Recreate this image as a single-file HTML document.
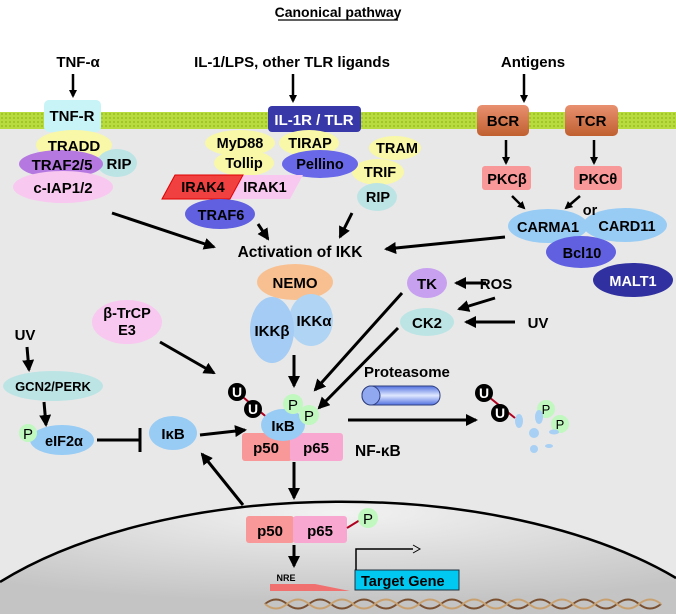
<!DOCTYPE html>
<html><head><meta charset="utf-8"><style>
html,body{margin:0;padding:0;background:#fff;width:676px;height:614px;overflow:hidden}
svg{display:block}
text{font-family:"Liberation Sans",sans-serif;font-weight:bold;fill:#000}
</style></head><body>
<svg width="676" height="614" viewBox="0 0 676 614" xmlns="http://www.w3.org/2000/svg" style="overflow:hidden">
<defs>
<pattern id="mem" width="4" height="4" patternUnits="userSpaceOnUse"><rect width="4" height="4" fill="#b8dc40"/><circle cx="2" cy="2" r="1" fill="#98c020"/></pattern>
<radialGradient id="nuc" cx="0.5" cy="0.1" r="0.8"><stop offset="0" stop-color="#f2f2f2"/><stop offset="1" stop-color="#c4c4c4"/></radialGradient>
<linearGradient id="brown" x1="0" y1="0" x2="0" y2="1"><stop offset="0" stop-color="#e89070"/><stop offset="1" stop-color="#c06030"/></linearGradient>
<linearGradient id="cyl" x1="0" y1="0" x2="0" y2="1"><stop offset="0" stop-color="#5070e0"/><stop offset="0.5" stop-color="#e0e8ff"/><stop offset="1" stop-color="#5070e0"/></linearGradient>
<marker id="ah" markerWidth="8" markerHeight="8" refX="6" refY="4" orient="auto" markerUnits="userSpaceOnUse"><path d="M0,0 L8,4 L0,8 Z" fill="#000"/></marker>
<marker id="ahb" markerWidth="12" markerHeight="12" refX="10" refY="6" orient="auto" markerUnits="userSpaceOnUse"><path d="M0,0 L12,6 L0,12 Z" fill="#000"/></marker>
</defs>
<rect x="0" y="125" width="676" height="489" fill="#e8e8e8"/>
<rect x="0" y="112" width="676" height="17" fill="url(#mem)"/>
<path d="M0,582 A430,205 0 0 1 676,578 L676,614 L0,614 Z" fill="url(#nuc)"/>
<path d="M0,582 A430,205 0 0 1 676,578" fill="none" stroke="#000" stroke-width="2.5"/>

<text x="338" y="17" font-size="14" text-anchor="middle">Canonical pathway</text>
<line x1="278" y1="20" x2="398" y2="20" stroke="#000" stroke-width="1.2"/>
<g font-size="15" text-anchor="middle">
<text x="78" y="67">TNF-α</text>
<text x="292" y="67">IL-1/LPS, other TLR ligands</text>
<text x="533" y="67">Antigens</text>
</g>
<g stroke="#000" stroke-width="2.5" fill="none" marker-end="url(#ah)">
<line x1="73" y1="74" x2="73" y2="96"/>
<line x1="293" y1="74" x2="293" y2="101"/>
<line x1="524" y1="74" x2="524" y2="101"/>
</g>

<rect x="44" y="100" width="57" height="32" rx="5" fill="#c8f4f8"/>
<text x="72" y="121" font-size="15" text-anchor="middle">TNF-R</text>
<ellipse cx="74" cy="145" rx="38" ry="15" fill="#f8f8a8"/>
<ellipse cx="117" cy="163" rx="20" ry="14" fill="#bde4e4"/>
<ellipse cx="61" cy="164" rx="42" ry="14" fill="#b478e0"/>
<ellipse cx="63" cy="187" rx="50" ry="16" fill="#f8c8f0"/>
<g font-size="15" text-anchor="middle">
<text x="74" y="151">TRADD</text>
<text x="62" y="170">TRAF2/5</text>
<text x="119" y="169">RIP</text>
<text x="63" y="193">c-IAP1/2</text>
</g>

<rect x="268" y="106" width="93" height="26" rx="4" fill="#3838a8"/>
<text x="314" y="125" font-size="15" text-anchor="middle" style="fill:#fff">IL-1R / TLR</text>
<ellipse cx="240" cy="143" rx="35" ry="13" fill="#f8f8a8"/>
<ellipse cx="309" cy="143" rx="30" ry="13" fill="#f8f8a8"/>
<ellipse cx="395" cy="148" rx="26" ry="12" fill="#f8f8a8"/>
<ellipse cx="244" cy="163" rx="30" ry="13" fill="#f8f8a8"/>
<ellipse cx="378" cy="172" rx="26" ry="13" fill="#f8f8a8"/>
<ellipse cx="320" cy="164" rx="38" ry="14" fill="#6868e8"/>
<ellipse cx="377" cy="197" rx="20" ry="14" fill="#bde4e4"/>
<polygon points="235,175 303,175 290,199 222,199" fill="#f8c8f0"/>
<polygon points="175,175 243,175 230,199 162,199" fill="#f04040" stroke="#e00000"/>
<ellipse cx="220" cy="214" rx="35" ry="15" fill="#6060e0"/>
<g font-size="14.5" text-anchor="middle">
<text x="240" y="148">MyD88</text>
<text x="310" y="148">TIRAP</text>
<text x="397" y="153">TRAM</text>
<text x="244" y="168">Tollip</text>
<text x="380" y="177">TRIF</text>
<text x="320" y="169">Pellino</text>
<text x="378" y="202">RIP</text>
<text x="203" y="192">IRAK4</text>
<text x="265" y="192">IRAK1</text>
<text x="221" y="220">TRAF6</text>
</g>
<g stroke="#000" stroke-width="3" fill="none" marker-end="url(#ahb)">
<line x1="112" y1="213" x2="214" y2="247"/>
<line x1="258" y1="224" x2="268" y2="239"/>
<line x1="352" y1="213" x2="340" y2="237"/>
<line x1="505" y1="237" x2="386" y2="249"/>
</g>
<text x="300" y="257" font-size="15.5" text-anchor="middle">Activation of IKK</text>

<rect x="477" y="105" width="52" height="31" rx="5" fill="url(#brown)"/>
<rect x="565" y="105" width="53" height="31" rx="5" fill="url(#brown)"/>
<text x="503" y="126" font-size="15" text-anchor="middle">BCR</text>
<text x="591" y="126" font-size="15" text-anchor="middle">TCR</text>
<g stroke="#000" stroke-width="2.5" fill="none" marker-end="url(#ah)">
<line x1="506" y1="140" x2="506" y2="163"/>
<line x1="594" y1="140" x2="594" y2="163"/>
<line x1="512" y1="196" x2="524" y2="208"/>
<line x1="580" y1="196" x2="566" y2="208"/>
</g>
<rect x="482" y="166" width="49" height="24" rx="3" fill="#f89898"/>
<rect x="574" y="166" width="48" height="24" rx="3" fill="#f89898"/>
<text x="507" y="184" font-size="14.5" text-anchor="middle">PKCβ</text>
<text x="598" y="184" font-size="14.5" text-anchor="middle">PKCθ</text>
<ellipse cx="548" cy="226" rx="40" ry="17" fill="#98ccf4"/>
<ellipse cx="625" cy="225" rx="42" ry="17" fill="#98ccf4"/>
<ellipse cx="581" cy="252" rx="35" ry="16" fill="#6060e0"/>
<ellipse cx="633" cy="280" rx="40" ry="17" fill="#3030a0"/>
<g font-size="14.5" text-anchor="middle">
<text x="548" y="232">CARMA1</text>
<text x="590" y="215">or</text>
<text x="627" y="231">CARD11</text>
<text x="582" y="258">Bcl10</text>
<text x="633" y="286" style="fill:#fff">MALT1</text>
</g>

<ellipse cx="295" cy="282" rx="38" ry="18" fill="#f8c090"/>
<ellipse cx="311" cy="320" rx="22" ry="26" fill="#b0d4f4"/>
<ellipse cx="272" cy="330" rx="22" ry="33" fill="#a4ccf4"/>
<g font-size="15" text-anchor="middle">
<text x="295" y="288">NEMO</text>
<text x="272" y="336">IKKβ</text>
<text x="314" y="326">IKKα</text>
</g>

<ellipse cx="427" cy="283" rx="20" ry="15" fill="#c8a0f0"/>
<ellipse cx="427" cy="322" rx="27" ry="14" fill="#bde4e4"/>
<g font-size="15" text-anchor="middle">
<text x="427" y="289">TK</text>
<text x="427" y="328">CK2</text>
<text x="496" y="289">ROS</text>
<text x="538" y="328">UV</text>
</g>
<g stroke="#000" stroke-width="3" fill="none" marker-end="url(#ahb)">
<line x1="486" y1="283" x2="456" y2="283"/>
<line x1="495" y1="298" x2="459" y2="309"/>
<line x1="515" y1="322" x2="466" y2="322"/>
<line x1="402" y1="293" x2="315" y2="390"/>
<line x1="398" y1="328" x2="319" y2="408"/>
<line x1="294" y1="355" x2="294" y2="386"/>
<line x1="160" y1="342" x2="214" y2="373"/>
<line x1="200" y1="435" x2="245" y2="430"/>
<line x1="348" y1="420" x2="476" y2="420"/>
<line x1="294" y1="462" x2="294" y2="498"/>
<line x1="243" y1="505" x2="202" y2="454"/>
<line x1="294" y1="545" x2="294" y2="566"/>
<line x1="27" y1="347" x2="29" y2="370"/>
<line x1="44" y1="402" x2="46" y2="425"/>
</g>

<ellipse cx="127" cy="322" rx="35" ry="22" fill="#f8c8f0"/>
<text x="127" y="318" font-size="14.5" text-anchor="middle">β-TrCP</text>
<text x="127" y="335" font-size="14.5" text-anchor="middle">E3</text>

<text x="25" y="340" font-size="15" text-anchor="middle">UV</text>
<ellipse cx="53" cy="386" rx="50" ry="15" fill="#bde4e4"/>
<text x="53" y="391" font-size="13" text-anchor="middle">GCN2/PERK</text>
<ellipse cx="62" cy="440" rx="32" ry="15" fill="#98ccf4"/>
<circle cx="28" cy="433" r="9" fill="#c0f8c0"/>
<text x="28" y="439" font-size="15" text-anchor="middle" style="font-weight:normal">P</text>
<text x="64" y="446" font-size="14.5" text-anchor="middle">eIF2α</text>
<line x1="97" y1="440" x2="140" y2="440" stroke="#000" stroke-width="3"/>
<line x1="140" y1="428" x2="140" y2="452" stroke="#000" stroke-width="3"/>
<ellipse cx="173" cy="433" rx="24" ry="17" fill="#98ccf4"/>
<text x="173" y="439" font-size="15" text-anchor="middle">IκB</text>

<rect x="242" y="433" width="50" height="28" rx="3" fill="#f89898"/>
<rect x="290" y="433" width="53" height="28" rx="3" fill="#f8a8d0"/>
<text x="266" y="453" font-size="15" text-anchor="middle">p50</text>
<text x="316" y="453" font-size="15" text-anchor="middle">p65</text>
<line x1="237" y1="392" x2="270" y2="420" stroke="#b00020" stroke-width="2"/>
<ellipse cx="283" cy="425" rx="22" ry="16" fill="#98ccf4"/>
<circle cx="293" cy="404" r="10" fill="#c0f8c0"/>
<circle cx="309" cy="415" r="10" fill="#c0f8c0"/>
<circle cx="237" cy="392" r="9" fill="#000"/>
<circle cx="253" cy="409" r="9" fill="#000"/>
<g font-size="14" text-anchor="middle">
<text x="237" y="397" style="fill:#fff">U</text>
<text x="253" y="414" style="fill:#fff">U</text>
<text x="293" y="410" font-size="15" style="font-weight:normal">P</text>
<text x="309" y="421" font-size="15" style="font-weight:normal">P</text>
<text x="283" y="431" font-size="15">IκB</text>
</g>
<text x="355" y="456" font-size="15.5">NF-κB</text>

<text x="364" y="377" font-size="15">Proteasome</text>
<rect x="362" y="386" width="78" height="19" rx="9" fill="url(#cyl)" stroke="#304080"/>
<ellipse cx="371" cy="395.5" rx="9" ry="9.5" fill="#90a8f0" stroke="#304080"/>

<line x1="484" y1="393" x2="515" y2="418" stroke="#b00020" stroke-width="2"/>
<circle cx="484" cy="393" r="9" fill="#000"/>
<circle cx="500" cy="413" r="9" fill="#000"/>
<text x="484" y="398" font-size="14" text-anchor="middle" style="fill:#fff">U</text>
<text x="500" y="418" font-size="14" text-anchor="middle" style="fill:#fff">U</text>
<circle cx="546" cy="409" r="9" fill="#c0f8c0"/>
<circle cx="560" cy="424" r="9" fill="#c0f8c0"/>
<text x="546" y="414" font-size="13" text-anchor="middle" style="font-weight:normal">P</text>
<text x="560" y="429" font-size="13" text-anchor="middle" style="font-weight:normal">P</text>
<g fill="#a8d0f4">
<ellipse cx="519" cy="421" rx="4" ry="7"/>
<ellipse cx="539" cy="417" rx="4" ry="7"/>
<ellipse cx="534" cy="433" rx="5" ry="5"/>
<ellipse cx="554" cy="432" rx="5" ry="2.5"/>
<ellipse cx="534" cy="449" rx="4" ry="4"/>
<ellipse cx="549" cy="446" rx="4" ry="2"/>
</g>

<rect x="246" y="516" width="48" height="27" rx="3" fill="#f89898"/>
<rect x="293" y="516" width="54" height="27" rx="3" fill="#f8a8d0"/>
<text x="270" y="536" font-size="15" text-anchor="middle">p50</text>
<text x="320" y="536" font-size="15" text-anchor="middle">p65</text>
<line x1="347" y1="528" x2="360" y2="520" stroke="#b00020" stroke-width="2"/>
<circle cx="368" cy="518" r="10" fill="#c0f8c0"/>
<text x="368" y="524" font-size="15" text-anchor="middle" style="font-weight:normal">P</text>
<text x="286" y="581" font-size="9" text-anchor="middle">NRE</text>
<polygon points="270,584 315,584 350,591 270,591" fill="#f07070"/>
<rect x="355" y="570" width="104" height="20" fill="#00c8f0" stroke="#203040"/>
<text x="361" y="586" font-size="14.5">Target Gene</text>
<path d="M356,570 V549 H413" stroke="#000" stroke-width="1.5" fill="none"/>
<path d="M413,545 L420,549 L413,553" stroke="#000" fill="none"/>
<g stroke-width="2" fill="none">
<path d="M265,604 q11,-9 22,0 t22,0 t22,0 t22,0 t22,0 t22,0 t22,0 t22,0 t22,0 t22,0 t22,0 t22,0 t22,0 t22,0 t22,0 t22,0 t22,0 t22,0" stroke="#7a5030"/>
<path d="M265,604 q11,9 22,0 t22,0 t22,0 t22,0 t22,0 t22,0 t22,0 t22,0 t22,0 t22,0 t22,0 t22,0 t22,0 t22,0 t22,0 t22,0 t22,0 t22,0" stroke="#c8a070"/>
</g>
</svg>
</body></html>
